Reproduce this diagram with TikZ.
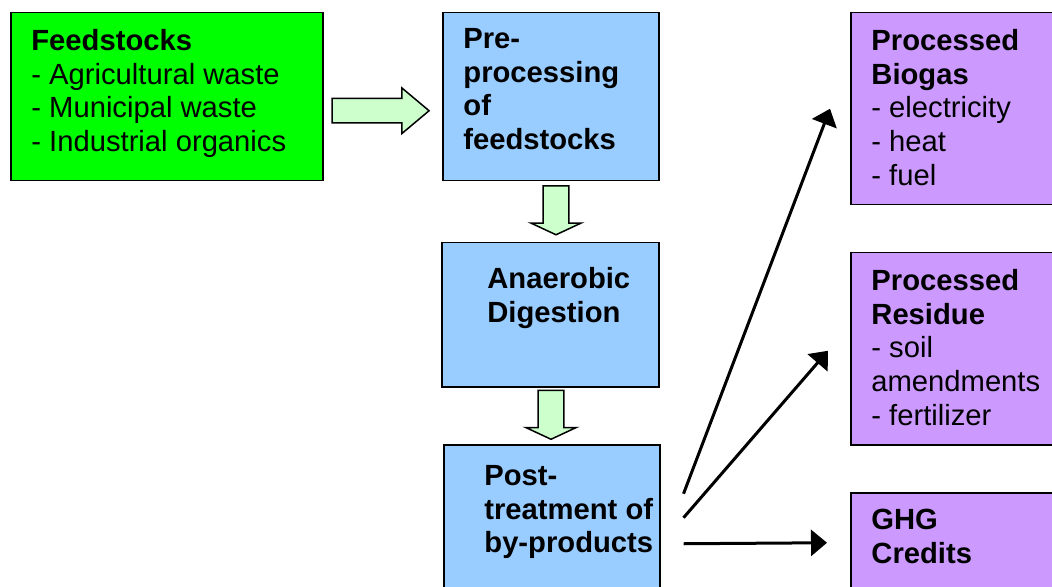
\documentclass[tikz,border=0pt]{standalone}
\usepackage{fontspec}
\setmainfont{Liberation Sans}
\usetikzlibrary{shapes.arrows, arrows.meta, positioning, calc}

\definecolor{feedgreen}{HTML}{00FF00}
\definecolor{procblue}{HTML}{99CCFF}
\definecolor{outpurple}{HTML}{CC99FF}
\definecolor{blkgreen}{HTML}{CCFFCC}

\begin{document}
\begin{tikzpicture}[
  x=0.5pt, y=-0.5pt,
  fbox/.style={rectangle, fill=feedgreen, draw=black, line width=0.75pt,
               anchor=north west, inner sep=0pt},
  pbox/.style={rectangle, fill=procblue, draw=black, line width=0.75pt,
               anchor=north west, inner sep=0pt},
  obox/.style={rectangle, fill=outpurple, draw=black, line width=0.75pt,
               anchor=north west, inner sep=0pt},
  txt/.style={anchor=north west, inner sep=0pt, align=left,
              font=\fontsize{14.6}{16.85}\selectfont},
  btxt/.style={txt, font=\fontsize{14.6}{16.85}\selectfont\bfseries},
  rblk/.style={single arrow, fill=blkgreen, draw=black, line width=0.75pt,
               inner xsep=0pt, inner ysep=5.75pt, minimum height=48.5pt,
               single arrow head extend=5.25pt, single arrow tip angle=80},
  dblk/.style={single arrow, fill=blkgreen, draw=black, line width=0.75pt,
               inner xsep=0pt, inner ysep=6.1pt, minimum height=24.5pt,
               single arrow head extend=6.1pt, single arrow tip angle=130,
               rotate=-90},
  arr/.style={draw, line width=1.5pt, -{Triangle[length=8pt, width=13pt]}}
]

\clip (0,0) rectangle (1052,587);

%% 原料
\node[fbox, minimum width=156pt, minimum height=84pt] (feed) at (10,12) {};
\node[txt] (feedtxt) at (31,29)
  {\textbf{Feedstocks}\\- Agricultural waste\\- Municipal waste\\- Industrial organics};

%% 中間處理流程
\node[pbox, minimum width=108pt, minimum height=84pt] (pre)  at (442,12)  {};
\node[pbox, minimum width=108.5pt, minimum height=72pt] (ana) at (441,242) {};
\node[pbox, minimum width=108pt, minimum height=73pt] (post) at (443,444) {};

\node[btxt] (pretxt)  at (463,28) {Pre-\\processing\\of\\feedstocks};
\node[btxt] (anatxt)  at (487,267) {Anaerobic\\Digestion};
\node[btxt] (posttxt) at (484,465) {Post-\\treatment of\\by-products};

%% 產物
\node[obox, minimum width=110pt, minimum height=96pt] (bio) at (850,12)  {};
\node[obox, minimum width=110pt, minimum height=96pt] (res) at (850,252) {};
\node[obox, minimum width=110pt, minimum height=50pt] (ghg) at (850,492) {};

\node[txt] (biotxt) at (871,29)
  {\textbf{Processed}\\\textbf{Biogas}\\- electricity\\- heat\\- fuel};
\node[txt] (restxt) at (871,269)
  {\textbf{Processed}\\\textbf{Residue}\\- soil\\amendments\\- fertilizer};
\node[txt] (ghgtxt) at (871,509)
  {\textbf{GHG}\\\textbf{Credits}};

%% 綠色箭頭
\node[rblk] (a1) at ($(feed.east)!0.5!(pre.west)+(-9.5,14)$) {};
\node[dblk] (a2) at ($(pre.south)!0.5!(ana.north)+(5.5,-4.5)$) {};
\node[dblk] (a3) at ($(ana.south)!0.5!(post.north)+(0,-4)$) {};

%% 黑色箭頭
\draw[arr] ([shift={(23,-24)}]post.east) -- ([shift={(-20,0)}]bio.west);
\draw[arr] ([shift={(23,0)}]post.east)   -- ([shift={(-22,2)}]res.west);
\draw[arr] ([shift={(23,26)}]post.east)  -- ([shift={(-23,0)}]ghg.west);

\end{tikzpicture}
\end{document}
